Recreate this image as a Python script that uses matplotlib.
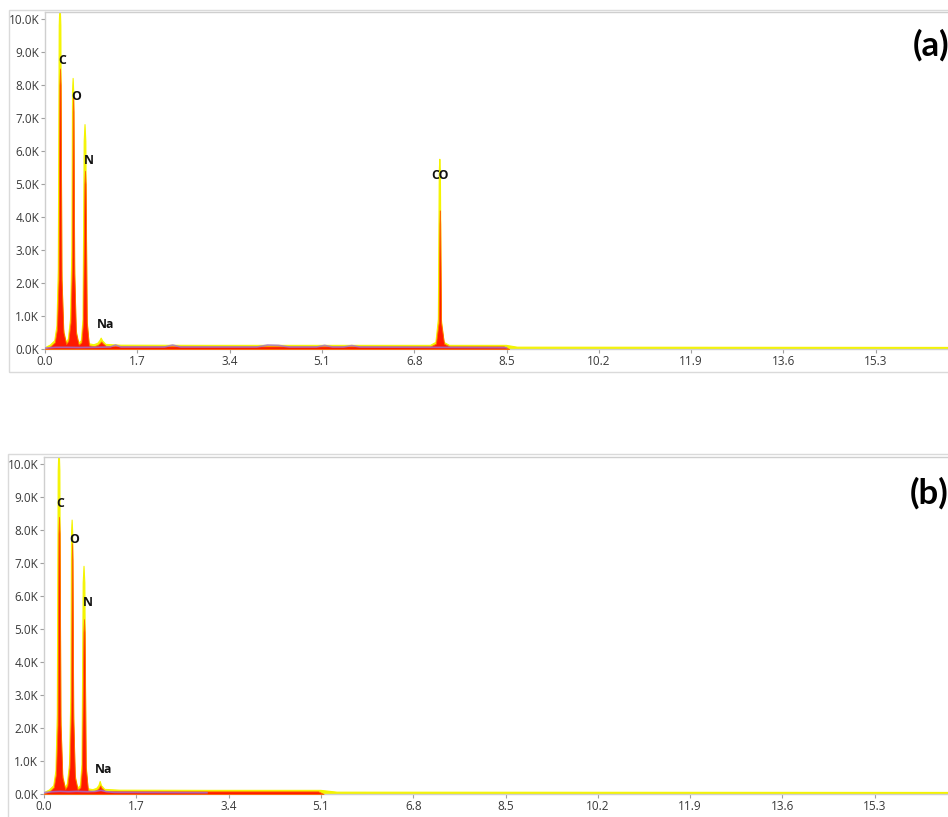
import matplotlib
matplotlib.use("Agg")
import matplotlib.pyplot as plt
from matplotlib.patches import Rectangle
from matplotlib.ticker import FuncFormatter

plt.rcParams['font.family'] = ['Open Sans', 'DejaVu Sans']

# ---------------- spectrum (a) ----------------
# energy [keV] / counts
a_yel_kev = [0.00, 0.10, 0.18, 0.22, 0.245, 0.262, 0.277, 0.292, 0.31, 0.34, 0.39,
             0.43, 0.47, 0.495, 0.507, 0.518, 0.529, 0.545, 0.57, 0.62,
             0.67, 0.70, 0.722, 0.737, 0.752, 0.775, 0.81, 0.90,
             0.97, 1.01, 1.035, 1.06, 1.12, 1.40, 3.00, 5.00,
             7.10, 7.20, 7.245, 7.262, 7.272, 7.282, 7.30, 7.35, 7.45, 8.50, 8.70, 20.0]
a_yel_cts = [40, 120, 250, 700, 2400, 9800, 10600, 9800, 2400, 600, 200,
             300, 900, 3000, 7800, 8200, 7800, 2600, 600, 180,
             250, 900, 6300, 6800, 6300, 900, 160, 130,
             170, 250, 330, 250, 140, 115, 110, 110,
             110, 200, 900, 5400, 5750, 5400, 900, 200, 110, 110, 55, 45]

a_red_kev = [0.00, 0.10, 0.18, 0.22, 0.25, 0.266, 0.277, 0.288, 0.305, 0.34, 0.39,
             0.43, 0.47, 0.50, 0.510, 0.518, 0.526, 0.54, 0.57, 0.62,
             0.67, 0.70, 0.726, 0.737, 0.748, 0.77, 0.81, 0.90,
             0.97, 1.01, 1.035, 1.06, 1.12, 1.40, 3.00, 5.00,
             7.10, 7.20, 7.25, 7.265, 7.272, 7.279, 7.295, 7.35, 7.45, 8.45, 8.55]
a_red_cts = [20, 80, 200, 600, 2100, 8000, 8500, 8000, 2100, 500, 150,
             250, 800, 2800, 7200, 7700, 7200, 2300, 500, 130,
             200, 800, 5000, 5400, 5000, 800, 110, 85,
             120, 180, 230, 180, 95, 85, 80, 80,
             80, 160, 800, 3800, 4200, 3800, 800, 160, 80, 80, 0]

a_pur_kev = [0.0, 0.2, 0.4, 0.6, 0.9, 1.20, 1.30, 1.40, 2.20, 2.35, 2.50,
             3.90, 4.10, 4.30, 4.50, 5.00, 5.15, 5.30, 5.50, 5.65, 5.80, 8.50]
a_pur_cts = [30, 50, 50, 45, 50, 60, 120, 60, 60, 120, 60,
             60, 120, 110, 60, 60, 110, 60, 60, 105, 60, 40]

# ---------------- spectrum (b) ----------------
b_yel_kev = [0.00, 0.10, 0.18, 0.22, 0.245, 0.262, 0.277, 0.292, 0.31, 0.34, 0.39,
             0.43, 0.47, 0.495, 0.507, 0.518, 0.529, 0.545, 0.57, 0.62,
             0.67, 0.70, 0.722, 0.737, 0.752, 0.775, 0.81, 0.90,
             0.97, 1.01, 1.035, 1.06, 1.12, 1.40, 3.00, 5.10, 5.40, 20.0]
b_yel_cts = [40, 120, 250, 700, 2400, 9800, 10600, 9800, 2400, 600, 200,
             300, 900, 3000, 7900, 8300, 7900, 2600, 600, 180,
             250, 900, 6400, 6900, 6400, 900, 160, 130,
             170, 250, 380, 250, 140, 115, 110, 110, 55, 45]

b_red_kev = [0.00, 0.10, 0.18, 0.22, 0.25, 0.266, 0.277, 0.288, 0.305, 0.34, 0.39,
             0.43, 0.47, 0.50, 0.510, 0.518, 0.526, 0.54, 0.57, 0.62,
             0.67, 0.70, 0.726, 0.737, 0.748, 0.77, 0.81, 0.90,
             0.97, 1.01, 1.035, 1.06, 1.12, 1.40, 3.00, 5.05, 5.15]
b_red_cts = [20, 80, 200, 600, 2100, 7900, 8400, 7900, 2100, 500, 150,
             250, 800, 2800, 7100, 7600, 7100, 2300, 500, 130,
             200, 800, 4900, 5300, 4900, 800, 110, 85,
             120, 180, 260, 180, 95, 85, 80, 80, 0]

b_pur_kev = [0.0, 0.15, 0.30, 0.45, 0.60, 0.80, 0.95, 1.05, 1.15, 1.30, 3.0]
b_pur_cts = [40, 70, 80, 70, 80, 70, 80, 110, 70, 50, 40]

# element labels: text, energy, counts
a_labels = [("C", 0.31, 8750), ("O", 0.57, 7650), ("N", 0.81, 5700),
            ("Na", 1.11, 750), ("CO", 7.27, 5250)]
b_labels = [("C", 0.30, 8800), ("O", 0.56, 7700), ("N", 0.80, 5800),
            ("Na", 1.10, 750)]

xticks = [0.0, 1.7, 3.4, 5.1, 6.8, 8.5, 10.2, 11.9, 13.6, 15.3]
yticks = [0, 1000, 2000, 3000, 4000, 5000, 6000, 7000, 8000, 9000, 10000]

W, H = 948, 817
fig = plt.figure(figsize=(W / 100, H / 100), dpi=100)
fig.patch.set_facecolor('white')

GRID = '#cfcfcf'
YEL = '#f4f400'
RED = '#ff1a00'
PUR = '#a070d8'


def panel(left_px, zero_px, frame_left, frame_top, frame_bot,
          yk, yc, rk, rc, pk, pc, labels, tag, tag_xy):
    # outer panel border
    fig.patches.append(Rectangle((frame_left / W, 1 - frame_bot / H),
                                 1.2, (frame_bot - frame_top) / H,
                                 transform=fig.transFigure, fill=False,
                                 edgecolor='#dadada', linewidth=1.0))
    px_per_kev = 92.3 / 1.7
    px_per_k = 33.0
    xmax, ymax = 20.0, 10200
    ax = fig.add_axes([left_px / W, 1 - zero_px / H,
                       xmax * px_per_kev / W, ymax / 1000 * px_per_k / H])
    ax.set_xlim(0, xmax)
    ax.set_ylim(0, ymax)

    ax.fill_between(yk, yc, color=YEL, linewidth=0.8, edgecolor=YEL, zorder=2)
    ax.fill_between(rk, rc, color=RED, linewidth=0.6, edgecolor='#ff6a00', zorder=3)
    ax.plot(pk, pc, color=PUR, linewidth=1.2, alpha=0.8, zorder=4)

    for txt, x, y in labels:
        ax.text(x, y, txt, ha='center', va='center', fontsize=8.8,
                fontweight='bold', color='#111111', zorder=5)

    ax.set_xticks(xticks)
    ax.set_xticklabels([f"{v:.1f}" for v in xticks])
    ax.set_yticks(yticks)
    ax.yaxis.set_major_formatter(FuncFormatter(lambda v, p: f"{v / 1000:.1f}K"))
    ax.tick_params(length=3, width=0.8, color='#a0a0a0', labelsize=8.5,
                   labelcolor='#3a3a3a', pad=1.2)
    for s in ax.spines.values():
        s.set_color(GRID)
        s.set_linewidth(1.0)

    fig.text(tag_xy[0] / W, 1 - tag_xy[1] / H, tag, fontsize=25,
             fontweight='bold', family=['Lato', 'DejaVu Sans'],
             ha='left', va='center')
    return ax


panel(45, 349, 9, 10, 372, a_yel_kev, a_yel_cts, a_red_kev, a_red_cts,
      a_pur_kev, a_pur_cts, a_labels, "(a)", (913, 45))
panel(44, 794, 8, 454, 830, b_yel_kev, b_yel_cts, b_red_kev, b_red_cts,
      b_pur_kev, b_pur_cts, b_labels, "(b)", (910, 493))

fig.savefig('out.png', dpi=100)
